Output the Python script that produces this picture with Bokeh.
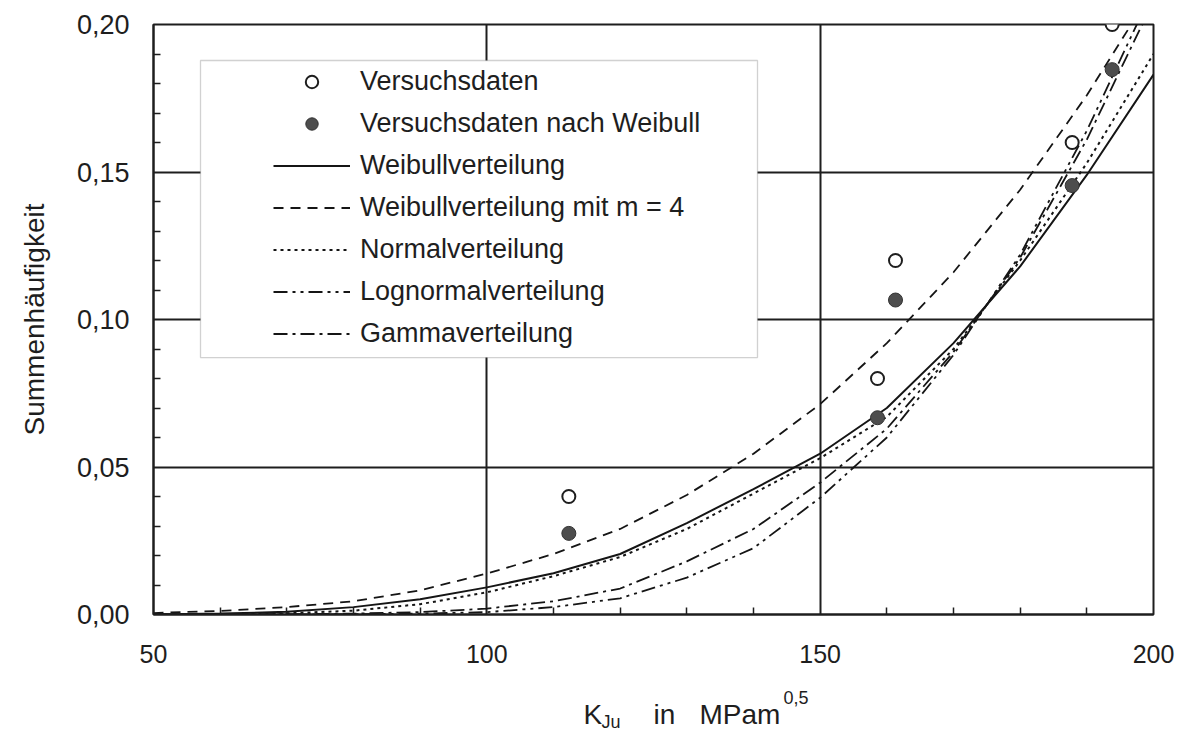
from bokeh.plotting import figure
from bokeh.layouts import column
from bokeh.models import Range1d, FixedTicker, Legend, LegendItem, BoxAnnotation
from bokeh.core.properties import value
from bokeh.embed import file_html
from bokeh.resources import INLINE

# ---- data ----
x_grid = [50, 60, 70, 80, 90, 100, 110, 120, 130, 140, 150, 160, 170, 180, 190, 200]
weibull = [0.0000, 0.0003, 0.0009, 0.0025, 0.0052, 0.0092, 0.0140, 0.0205, 0.0310, 0.0425,
           0.0545, 0.0700, 0.0920, 0.1180, 0.1490, 0.1830]
weibull_m4 = [0.0005, 0.0012, 0.0025, 0.0045, 0.0082, 0.0139, 0.0205, 0.0290, 0.0405, 0.0545,
              0.0713, 0.0920, 0.1160, 0.1440, 0.1760, 0.2120]
normal = [0.0000, 0.0001, 0.0004, 0.0013, 0.0035, 0.0075, 0.0130, 0.0195, 0.0290, 0.0410,
          0.0530, 0.0670, 0.0900, 0.1200, 0.1530, 0.1900]
gamma = [0.0000, 0.0000, 0.0001, 0.0003, 0.0008, 0.0020, 0.0045, 0.0088, 0.0180, 0.0290,
         0.0447, 0.0630, 0.0890, 0.1210, 0.1610, 0.2080]
lognormal = [0.0000, 0.0000, 0.0000, 0.0001, 0.0003, 0.0008, 0.0025, 0.0055, 0.0125, 0.0225,
             0.0396, 0.0600, 0.0880, 0.1220, 0.1640, 0.2120]

x_points = [112.3, 158.6, 161.3, 187.8, 193.8]
y_versuch = [0.040, 0.080, 0.120, 0.160, 0.200]
y_versuch_weibull = [0.0275, 0.0667, 0.1066, 0.1454, 0.1847]

x_major = [50, 100, 150, 200]
x_minor = [60, 70, 80, 90, 110, 120, 130, 140, 160, 170, 180, 190]
y_major = [0.0, 0.05, 0.10, 0.15, 0.20]
y_major_labels = ["0,00", "0,05", "0,10", "0,15", "0,20"]
y_minor = [0.01, 0.02, 0.03, 0.04, 0.06, 0.07, 0.08, 0.09, 0.11, 0.12, 0.13, 0.14,
           0.16, 0.17, 0.18, 0.19]

labels = ["Versuchsdaten", "Versuchsdaten nach Weibull", "Weibullverteilung",
          "Weibullverteilung mit m = 4", "Normalverteilung", "Lognormalverteilung",
          "Gammaverteilung"]
x_title_main = ["K", "in", "MPam"]
x_title_sub = ["Ju"]
x_title_sup = ["0,5"]

FONT = "Liberation Sans"
INK = "#1e1e1e"

W = 1180
H1 = 678          # main figure
H2 = 55           # strip holding the x-axis title
FL, FR = 153, 1153
p = figure(width=W, height=H1, output_backend="svg", toolbar_location=None,
           x_range=Range1d(50, 200), y_range=Range1d(0, 0.2))
p.min_border_left = FL
p.min_border_right = W - FR
p.min_border_top = 24
p.min_border_bottom = H1 - 614
p.background_fill_color = "white"
p.border_fill_color = "white"
p.outline_line_color = INK
p.outline_line_width = 2

# axes
p.xaxis.ticker = FixedTicker(ticks=x_major, minor_ticks=x_minor)
p.yaxis.ticker = FixedTicker(ticks=y_major, minor_ticks=y_minor)
p.yaxis.major_label_overrides = {v: s for v, s in zip(y_major, y_major_labels)}
for ax in (p.xaxis[0], p.yaxis[0]):
    ax.axis_line_color = INK
    ax.axis_line_width = 2
    ax.major_tick_in = 0
    ax.major_tick_out = 0
    ax.minor_tick_in = 7
    ax.minor_tick_out = 0
    ax.minor_tick_line_color = INK
    ax.minor_tick_line_width = 1.5
    ax.major_label_text_color = INK
p.yaxis.major_label_text_font = FONT
p.yaxis.major_label_text_font_size = "27px"
p.yaxis.major_label_standoff = 24
p.yaxis.axis_label = "Summenhäufigkeit"
p.yaxis.axis_label_text_font = FONT
p.yaxis.axis_label_text_font_size = "28px"
p.yaxis.axis_label_text_font_style = "normal"
p.yaxis.axis_label_text_color = INK
p.yaxis.axis_label_standoff = 24

p.xaxis.major_label_text_font = FONT
p.xaxis.major_label_text_font_size = "25px"
p.xaxis.major_label_standoff = 30

# grid
p.xgrid.ticker = FixedTicker(ticks=[100, 150])
p.ygrid.ticker = FixedTicker(ticks=[0.05, 0.10, 0.15])
for g in (p.xgrid[0], p.ygrid[0]):
    g.grid_line_color = INK
    g.grid_line_width = 2
    g.grid_line_alpha = 1

# curves
lc = "#151515"
r_w = p.line(x_grid, weibull, line_color=lc, line_width=2)
r_m4 = p.line(x_grid, weibull_m4, line_color=lc, line_width=1.8, line_dash="10 7")
r_n = p.line(x_grid, normal, line_color=lc, line_width=2, line_dash="3 4")
r_ln = p.line(x_grid, lognormal, line_color=lc, line_width=1.8, line_dash="14 5 3 5 3 5")
r_g = p.line(x_grid, gamma, line_color=lc, line_width=1.8, line_dash="14 5 3 5")

r_open = p.scatter(x_points, y_versuch, size=13, fill_color="white", line_color=INK,
                   line_width=2)
r_fill = p.scatter(x_points, y_versuch_weibull, size=14, fill_color="#4d4d4d",
                   line_color="#333333", line_width=1)

# legend box
box = BoxAnnotation(left=57.05, right=140.6, top=0.1878, bottom=0.0871,
                    fill_color="white", fill_alpha=1.0, line_color="#666666",
                    line_width=1.3)
p.add_layout(box)

rend = [r_open, r_fill, r_w, r_m4, r_n, r_ln, r_g]
items = [LegendItem(label=l, renderers=[r]) for l, r in zip(labels, rend)]
legend = Legend(items=items, location=(120, 265), glyph_width=77, glyph_height=31,
                label_height=31, spacing=11, padding=0, label_standoff=10,
                background_fill_alpha=0, border_line_alpha=0,
                label_text_font=FONT, label_text_font_size="27px",
                label_text_color=INK)
p.add_layout(legend)

# ---- strip with the x-axis title (page-pixel coordinates; frame aligned with p) ----
p2 = figure(width=W, height=H2, output_backend="svg", toolbar_location=None,
            title=None, x_range=Range1d(FL, FR), y_range=Range1d(0, H2),
            x_axis_location=None, y_axis_location=None)
p2.min_border_left = FL
p2.min_border_right = W - FR
p2.min_border_top = 0
p2.min_border_bottom = 0
p2.outline_line_color = None
p2.grid.visible = False
p2.background_fill_color = "white"
p2.border_fill_color = "white"
p2.text(x=[583, 653, 699], y=[19, 19, 19], text=x_title_main, text_font=value(FONT),
        text_font_size="28px", text_color=INK, text_baseline="alphabetic",
        text_align="left")
p2.text(x=[601], y=[12], text=x_title_sub, text_font=value(FONT),
        text_font_size="18px", text_color=INK, text_baseline="alphabetic",
        text_align="left")
p2.text(x=[783], y=[36], text=x_title_sup, text_font=value(FONT),
        text_font_size="18px", text_color=INK, text_baseline="alphabetic",
        text_align="left")

open("out.html", "w").write(file_html(column(p, p2), INLINE))
